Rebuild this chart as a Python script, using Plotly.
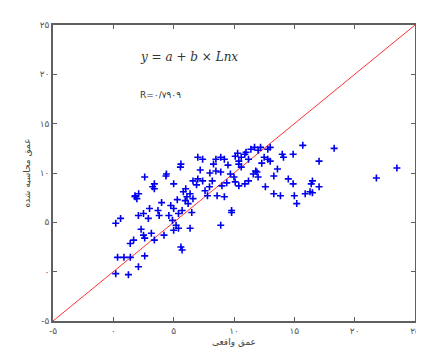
import plotly.graph_objects as go

actual = [
    0.2, 1.25, 0.35, 0.88, 1.41, 2.08, 2.6, 1.4, 1.68, 2.5, 2.6, 3.15, 3.4, 4.2,
    5.6, 5.7, 5.0, 5.2, 5.4, 6.36, 0.2, 0.6, 2.08, 2.5, 2.9, 3.7, 3.8, 4.76, 5.0,
    5.4, 5.7, 4.6, 4.9, 6.5, 8.9, 9.8, 1.8, 1.95, 2.1, 3.4, 3.4, 2.6, 4.36, 5.0,
    5.56, 5.8, 6.1, 6.36, 6.6, 5.96, 6.2, 6.6, 7.0, 7.4, 7.0, 7.4, 7.8, 7.97, 8.2,
    8.5, 8.9, 9.2, 8.5, 8.9, 8.6, 9.2, 9.0, 9.7, 10.0, 10.1, 10.4, 10.1, 10.4,
    10.6, 10.9, 11.2, 10.4, 10.6, 11.4, 11.7, 12.0, 12.2, 12.8, 13.0, 10.9, 11.2,
    11.6, 11.9, 12.0, 12.5, 12.8, 13.0, 12.6, 13.3, 14.0, 14.1, 14.9, 15.7, 13.3,
    13.85, 14.9, 15.0, 15.2, 15.9, 16.3, 16.4, 18.3, 17.05, 16.5, 17.05, 16.5,
    21.8, 23.5, 9.8, 4.4, 5.6, 3.26, 1.8, 8.0, 9.5, 11.8, 7.6, 6.9, 10.3, 12.3,
    3.0, 4.0, 6.0, 7.2, 9.4, 11.0, 13.6, 14.5, 8.3, 5.3, 2.3
]
computed = [
    -0.2, -0.3, 1.45, 1.45, 1.45, 0.5, 1.6, 2.85, 3.2, 3.7, 3.4, 3.9, 3.2, 3.7,
    2.5, 2.2, 4.2, 4.7, 4.4, 4.4, 4.9, 5.4, 5.7, 5.9, 5.4, 6.2, 5.7, 6.7, 6.4,
    5.9, 6.2, 5.7, 5.2, 6.0, 4.7, 6.0, 7.7, 7.4, 7.9, 8.9, 8.4, 9.6, 9.7, 8.9,
    10.6, 8.1, 7.6, 7.9, 7.4, 7.2, 6.9, 9.2, 9.4, 9.2, 11.6, 11.4, 7.7, 8.6, 9.2,
    11.4, 11.6, 11.4, 10.2, 10.1, 7.7, 7.6, 8.7, 9.9, 9.6, 9.1, 8.7, 11.7, 11.2,
    11.6, 11.9, 11.4, 10.9, 10.6, 12.4, 12.6, 12.3, 12.6, 12.4, 12.6, 8.9, 9.2,
    9.9, 10.1, 9.6, 11.6, 11.4, 11.2, 8.6, 9.7, 11.9, 11.6, 11.9, 12.8, 7.9,
    7.7, 8.9, 7.7, 6.9, 7.9, 8.1, 8.9, 12.5, 11.2, 9.2, 8.6, 8.0,
    9.5, 10.5, 6.2, 9.9, 10.9, 8.6, 7.6, 10.0, 10.8, 10.2, 8.2, 8.8, 12.0, 11.0,
    6.4, 7.0, 8.4, 10.3, 9.0, 12.1, 10.4, 9.4, 10.9, 7.3, 4.3
]

ref_line_x = [-5, 25]
ref_line_y = [-5, 25]

tick_vals = [-5, 0, 5, 10, 15, 20, 25]
tick_text = ["-۵", "۰", "۵", "۱۰", "۱۵", "۲۰", "۲۵"]

x_title = "عمق واقعی"
y_title = "عمق محاسبه شده"
formula_text = "y = a + b × Lnx"
r_text = "R=۰/۷۹۰۹"

fig = go.Figure()
fig.add_trace(go.Scatter(
    x=ref_line_x, y=ref_line_y, mode="lines",
    line=dict(color="#ff3030", width=1), hoverinfo="skip", showlegend=False))
fig.add_trace(go.Scatter(
    x=actual, y=computed, mode="markers",
    marker=dict(symbol="cross-thin", size=5, line=dict(color="#0000ee", width=1.6)),
    showlegend=False))

axis_common = dict(
    tickmode="array", tickvals=tick_vals, ticktext=tick_text,
    showgrid=False, zeroline=False, showline=True, linecolor="#606060", linewidth=1.5,
    mirror="ticks", ticks="inside", ticklen=4, tickcolor="#606060",
    tickfont=dict(family="DejaVu Sans", size=9, color="#555"),
    ticklabeloverflow="allow",
)
fig.update_xaxes(**axis_common, range=[-5, 25.0001], title=dict(text=x_title, standoff=4,
                 font=dict(family="DejaVu Sans", size=9, color="#444")))
fig.update_yaxes(**axis_common, range=[-5, 25], title=dict(text=y_title, standoff=8,
                 font=dict(family="DejaVu Sans", size=9, color="#444")))

fig.add_annotation(x=0.235, y=0.893, xref="paper", yref="paper", text="<i>" + formula_text + "</i>",
                   showarrow=False, xanchor="left", yanchor="middle",
                   font=dict(family="DejaVu Serif", size=12, color="#333"))
fig.add_annotation(x=0.235, y=0.765, xref="paper", yref="paper", text=r_text,
                   showarrow=False, xanchor="left", yanchor="middle",
                   font=dict(family="DejaVu Sans", size=9, color="#333"))

fig.update_layout(
    width=424, height=356,
    margin=dict(l=45, r=12, t=15, b=43),
    paper_bgcolor="white", plot_bgcolor="white",
)

fig.write_html("out.html")
